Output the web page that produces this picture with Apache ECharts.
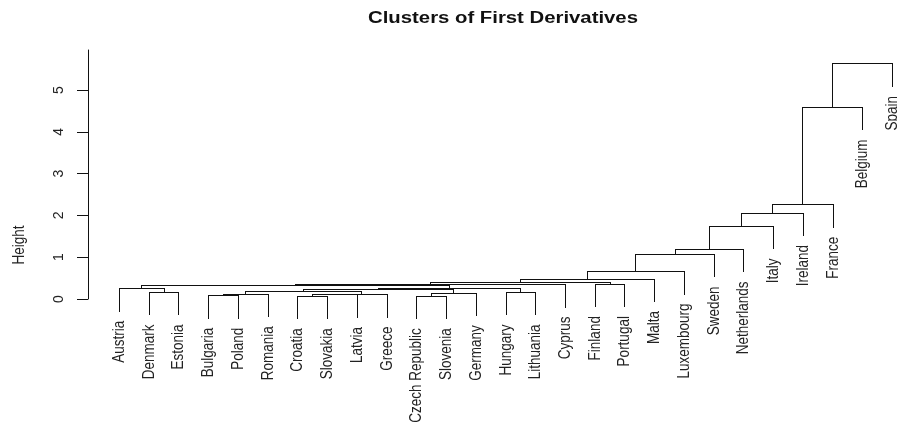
<!DOCTYPE html>
<html>
<head>
<meta charset="utf-8">
<script src="https://cdn.jsdelivr.net/npm/echarts@6/dist/echarts.min.js"></script>
<style>
  html, body { margin: 0; padding: 0; background: #fff; }
  #main { width: 897px; height: 428px; }
</style>
</head>
<body>
<div id="main"></div>
<script>
// leaves in plotting order
var leafNames = ['Austria', 'Denmark', 'Estonia', 'Bulgaria', 'Poland', 'Romania', 'Croatia', 'Slovakia',
    'Latvia', 'Greece', 'Czech Republic', 'Slovenia', 'Germany', 'Hungary', 'Lithuania', 'Cyprus',
    'Finland', 'Portugal', 'Malta', 'Luxembourg', 'Sweden', 'Netherlands', 'Italy', 'Ireland',
    'France', 'Belgium', 'Spain'];

// merge table (like hclust$merge): a string is a leaf, a number is an earlier merge row
var mergeLeft = ['Bulgaria', 'Croatia', 'Czech Republic', 1, 3, 0, 2, 'Denmark', 'Hungary', 5, 9, 10,
    'Austria', 12, 13, 'Finland', 14, 16, 17, 18, 19, 20, 21, 22, 23, 24];
var mergeRight = ['Poland', 'Slovakia', 'Slovenia', 'Latvia', 'Greece', 'Romania', 'Germany', 'Estonia',
    'Lithuania', 4, 6, 8, 7, 11, 'Cyprus', 'Portugal', 15, 'Malta', 'Luxembourg', 'Sweden',
    'Netherlands', 'Italy', 'Ireland', 'France', 'Belgium', 'Spain'];
var mergeHeight = [0.09, 0.08, 0.08, 0.11, 0.12, 0.13, 0.15, 0.17, 0.17, 0.20, 0.24, 0.26,
    0.26, 0.33, 0.36, 0.37, 0.40, 0.49, 0.67, 1.08, 1.20, 1.75, 2.07, 2.27, 4.60, 5.64];

var yTicks = [0, 1, 2, 3, 4, 5];

// build the segments of the dendrogram
var hang = 0.1 * Math.max.apply(null, mergeHeight);
var nodePos = [];
var segments = [];
var leafLabels = [];

function nodeInfo(ref) {
    if (typeof ref === 'string') {
        return { x: leafNames.indexOf(ref) + 1, leaf: true, name: ref };
    }
    return { x: nodePos[ref], leaf: false, h: mergeHeight[ref] };
}

for (var i = 0; i < mergeHeight.length; i++) {
    var h = mergeHeight[i];
    var l = nodeInfo(mergeLeft[i]);
    var r = nodeInfo(mergeRight[i]);
    [l, r].forEach(function (n) {
        var bottom = n.leaf ? h - hang : n.h;
        segments.push([n.x, bottom, n.x, h]);
        if (n.leaf) leafLabels.push([n.x, bottom, n.name]);
    });
    segments.push([l.x, h, r.x, h]);
    nodePos[i] = (l.x + r.x) / 2;
}

var myChart = echarts.init(document.getElementById('main'));

var option = {
    backgroundColor: '#fff',
    animation: false,
    textStyle: { fontFamily: 'Liberation Sans, Arial, sans-serif' },
    grid: { left: 119, right: 5, top: 50, bottom: 129 },
    xAxis: { type: 'value', min: 1, max: leafNames.length, show: false },
    yAxis: {
        type: 'value',
        min: 0,
        max: 5.96,
        splitLine: { show: false },
        axisLine: { show: true, lineStyle: { color: '#111', width: 1 } },
        axisTick: { show: true, length: 11, customValues: yTicks, lineStyle: { color: '#111' } },
        axisLabel: {
            customValues: yTicks,
            rotate: 90,
            margin: 22,
            fontSize: 14,
            color: '#222'
        },
        offset: 31
    },
    graphic: [
        {
            type: 'text',
            x: 503, y: 19,
            scaleX: 1.27,
            style: {
                text: 'Clusters of First Derivatives',
                fill: '#111',
                font: 'bold 16px "Liberation Sans", Arial, sans-serif',
                textAlign: 'center',
                textVerticalAlign: 'middle'
            }
        },
        {
            type: 'text',
            x: 19, y: 245,
            rotation: Math.PI / 2,
            scaleY: 1.27,
            style: {
                text: 'Height',
                fill: '#222',
                font: '13.5px "Liberation Sans", Arial, sans-serif',
                textAlign: 'center',
                textVerticalAlign: 'middle'
            }
        }
    ],
    series: [
        {
            type: 'custom',
            clip: false,
            data: segments,
            renderItem: function (params, api) {
                var p1 = api.coord([api.value(0), api.value(1)]);
                var p2 = api.coord([api.value(2), api.value(3)]);
                if (api.value(0) === api.value(2)) {
                    var x = Math.round(p1[0]) + 0.5;
                    p1 = [x, Math.round(p1[1])];
                    p2 = [x, Math.round(p2[1])];
                } else {
                    var y = Math.round(p1[1]) + 0.5;
                    p1 = [Math.round(p1[0]), y];
                    p2 = [Math.round(p2[0]) + 1, y];
                }
                return {
                    type: 'line',
                    shape: { x1: p1[0], y1: p1[1], x2: p2[0], y2: p2[1] },
                    style: { stroke: '#111', lineWidth: 1 }
                };
            }
        },
        {
            type: 'custom',
            clip: false,
            data: leafLabels,
            renderItem: function (params, api) {
                var p = api.coord([api.value(0), api.value(1)]);
                return {
                    type: 'text',
                    x: Math.round(p[0]) + 0.5,
                    y: p[1] + 9,
                    rotation: Math.PI / 2,
                    scaleY: 1.27,
                    style: {
                        text: leafLabels[params.dataIndex][2],
                        fill: '#222',
                        font: '13.5px "Liberation Sans", Arial, sans-serif',
                        textAlign: 'right',
                        textVerticalAlign: 'middle'
                    }
                };
            }
        }
    ]
};

myChart.setOption(option);
</script>
</body>
</html>
